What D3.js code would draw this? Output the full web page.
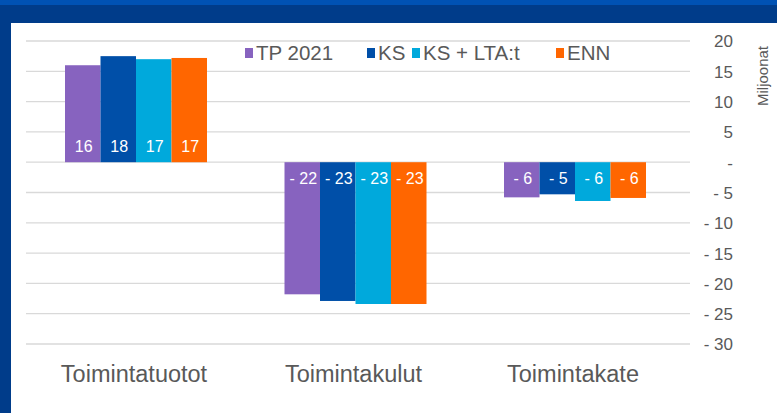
<!DOCTYPE html>
<html>
<head>
<meta charset="utf-8">
<script src="https://cdn.jsdelivr.net/npm/d3@7"></script>
<style>
  body { margin: 0; background: #003c8a; }
  text { font-family: "Liberation Sans", Arial, sans-serif; fill: #595959; }
</style>
</head>
<body>
<svg id="chart" width="777" height="413"></svg>
<script>
const categories = ['Toimintatuotot', 'Toimintakulut', 'Toimintakate']
const seriesNames = ['TP 2021', 'KS', 'KS + LTA:t', 'ENN']
const seriesColors = ['#8763bf', '#004fa8', '#00a9dc', '#ff6600']
const tp2021 = [16.0, -21.8, -5.8]
const ks = [17.5, -22.9, -5.3]
const ksLta = [17.0, -23.4, -6.4]
const enn = [17.2, -23.4, -5.9]
const tickValues = [20, 15, 10, 5, 0, -5, -10, -15, -20, -25, -30]

const seriesValues = [tp2021, ks, ksLta, enn]

const svg = d3.select('#chart')

// frame
svg.append('rect').attr('x', 0).attr('y', 0).attr('width', 777).attr('height', 413).attr('fill', '#003c8a')
svg.append('rect').attr('x', 0).attr('y', 0).attr('width', 777).attr('height', 5).attr('fill', '#0052b4')
svg.append('rect').attr('x', 11).attr('y', 23).attr('width', 766).attr('height', 390).attr('fill', '#fff')

const x = d3.scaleBand().domain(categories).range([26.25, 684.75])
const xs = d3.scaleBand().domain(seriesNames).range([0, 142])
const y = d3.scaleLinear().domain([-30, 20]).range([344, 41])

// gridlines
svg.append('g')
  .selectAll('line')
  .data(tickValues)
  .enter()
  .append('line')
  .attr('x1', 26).attr('x2', 690)
  .attr('y1', d => y(d)).attr('y2', d => y(d))
  .attr('stroke', '#d9d9d9').attr('stroke-width', 1.3)

// right axis
const fmt = d => d === 0 ? '-' : d < 0 ? '- ' + Math.abs(d) : String(d)
const axis = svg.append('g')
  .attr('transform', 'translate(733,0)')
  .call(d3.axisRight(y).tickValues(tickValues).tickFormat(fmt).tickSize(0).tickPadding(0))
axis.select('.domain').remove()
axis.selectAll('text')
  .attr('text-anchor', 'end')
  .attr('font-size', '17px')
  .attr('fill', '#595959')
  .attr('x', 0)
  .attr('dy', '0.35em')
  .attr('font-family', '"Liberation Sans", sans-serif')

svg.append('text')
  .text('Miljoonat')
  .attr('transform', 'translate(768,76) rotate(-90)')
  .attr('text-anchor', 'middle')
  .attr('font-size', '15px')

// bars
const groups = svg.append('g')
  .selectAll('g')
  .data(categories)
  .enter()
  .append('g')
  .attr('transform', d => `translate(${x(d) + x.bandwidth() / 2 - 71},0)`)

groups.each(function (cat, ci) {
  const g = d3.select(this)
  const rows = seriesNames.map((s, si) => ({ s, si, v: seriesValues[si][ci] }))
  g.selectAll('rect')
    .data(rows)
    .enter()
    .append('rect')
    .attr('x', d => xs(d.s))
    .attr('width', xs.bandwidth())
    .attr('y', d => Math.min(y(d.v), y(0)))
    .attr('height', d => Math.abs(y(d.v) - y(0)))
    .attr('fill', d => seriesColors[d.si])
  g.selectAll('text')
    .data(rows)
    .enter()
    .append('text')
    .text(d => fmt(Math.round(d.v)))
    .attr('x', d => xs(d.s) + xs.bandwidth() / 2 + 1)
    .attr('y', d => d.v >= 0 ? y(0) - 10 : y(0) + 10)
    .attr('dy', d => d.v >= 0 ? '0' : '0.72em')
    .attr('text-anchor', 'middle')
    .attr('font-size', '16px')
    .style('fill', '#fff')
})

// category labels
svg.append('g')
  .selectAll('text')
  .data(categories)
  .enter()
  .append('text')
  .text(d => d)
  .attr('x', d => x(d) + x.bandwidth() / 2 - 2)
  .attr('y', 382)
  .attr('text-anchor', 'middle')
  .attr('font-size', '23.5px')

// legend
const legendX = [245, 367, 412, 556]
const legend = svg.append('g')
  .selectAll('g')
  .data(seriesNames)
  .enter()
  .append('g')
  .attr('transform', (d, i) => `translate(${legendX[i]},48)`)
legend.append('rect').attr('width', 8).attr('height', 10).attr('fill', (d, i) => seriesColors[i])
legend.append('text')
  .text(d => d)
  .attr('x', 11)
  .attr('y', 12)
  .attr('font-size', '20.5px')
</script>
</body>
</html>
